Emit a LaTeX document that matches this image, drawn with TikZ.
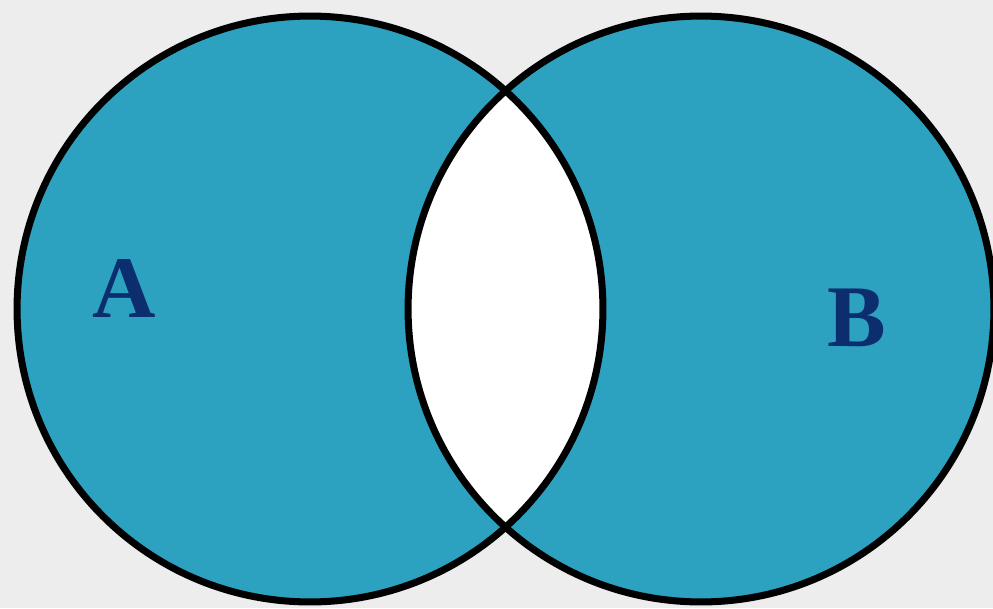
\documentclass[tikz,border=0pt]{standalone}
\usepackage{fontspec}
\setmainfont{Liberation Serif}
\definecolor{turquesa}{HTML}{2CA2C0}
\definecolor{marino}{HTML}{0C2E6E}
\definecolor{fondo}{HTML}{EEEDED}
\tikzset{
	borde/.style={line width=4pt, color=black},
	letra/.style={color=marino, font=\fontsize{50}{50}\selectfont\bfseries}
}
\begin{document}
\begin{tikzpicture}[x=0.02cm,y=-0.02cm]

	%Fondo gris
	\fill[fondo] (0,0) rectangle (993,608);
	\useasboundingbox (0,0) rectangle (993,608);
	\clip (0,0) rectangle (993,608);
	%Centros de los circulos
	\coordinate (cA) at (310,309);
	\coordinate (cB) at (701,309);

	%Circulos A y B rellenos
	\fill[turquesa] (cA) circle (5.86cm);
	\fill[turquesa] (cB) circle (5.86cm);
	%Interseccion en blanco
	\begin{scope}
		\clip (cA) circle (5.86cm);
		\fill[white] (cB) circle (5.86cm);
	\end{scope}

	%Bordes negros
	\draw[borde] (cA) circle (5.86cm);
	\draw[borde] (cB) circle (5.86cm);

	%Letras
	\node[letra] (A) at (124,288) {A};
	\node[letra] (B) at (857,318) {B};

\end{tikzpicture}
\end{document}
